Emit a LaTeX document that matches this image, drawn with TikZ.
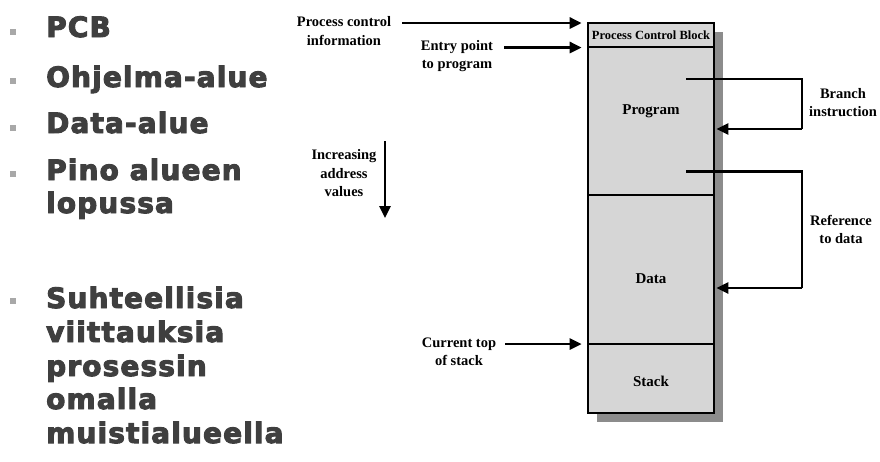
\documentclass[tikz,border=0pt]{standalone}
\usepackage{fontspec}
\setmainfont{Liberation Serif}
\newfontfamily\bulletfont{DejaVu Sans}[FakeBold=3.5,LetterSpace=4]
\usetikzlibrary{arrows.meta}
\definecolor{boxgray}{HTML}{D6D6D6}
\definecolor{shadowgray}{HTML}{8C8C8C}
\definecolor{bullettext}{HTML}{3F3F3F}
\definecolor{bulletmark}{HTML}{A8A8A8}
\begin{document}
\begin{tikzpicture}[x=1pt,y=-1pt,
  point/.style={anchor=base west,inner sep=0pt,text=bullettext,
    font=\bulletfont\bfseries\fontsize{28}{33}\selectfont},
  sqmark/.style={fill=bulletmark,draw=none,minimum size=6pt,inner sep=0pt},
  region/.style={draw=black,line width=2.6pt,fill=boxgray,minimum width=126pt,
    inner sep=0pt,font=\bfseries\fontsize{14.5}{18}\selectfont},
  lbl/.style={align=center,inner sep=0pt,font=\bfseries\fontsize{14.5}{18.5}\selectfont},
  arr/.style={line width=2.6pt,-{Triangle[length=12pt,width=11pt]}},
  wire/.style={line width=2.6pt}]
\useasboundingbox (0,0) rectangle (880,461);

% bullet list
\node[sqmark] (m1) at (13,32) {};
\node[point] (b1) at (46,37) {PCB};
\node[sqmark] (m2) at (13,81) {};
\node[point] (b2) at (46,87) {Ohjelma-alue};
\node[sqmark] (m3) at (13,128) {};
\node[point] (b3) at (46,133) {Data-alue};
\node[sqmark] (m4) at (13,174) {};
\node[point] (b4a) at (46,180) {Pino alueen};
\node[point] (b4b) at (46,213) {lopussa};
\node[sqmark] (m5) at (13,301) {};
\node[point] (b5a) at (46,308) {Suhteellisia};
\node[point] (b5b) at (46,342) {viittauksia};
\node[point] (b5c) at (46,376) {prosessin};
\node[point] (b5d) at (46,409) {omalla};
\node[point] (b5e) at (46,443) {muistialueella};

% process image with drop shadow
\fill[shadowgray] (597,32) rectangle (723,422);
\node[region,minimum height=24pt,font=\bfseries\fontsize{12.5}{13}\selectfont] (pcb) at (651,35) {Process Control Block};
\node[region,minimum height=148pt] (prog) at (651,121) {};
\node[region,minimum height=149pt] (data) at (651,269.5) {};
\node[region,minimum height=69pt] (stack) at (651,378.5) {};
\node[font=\bfseries\fontsize{15}{18}\selectfont] (progt) at (651,111) {Program};
\node[font=\bfseries\fontsize{15}{18}\selectfont] (datat) at (651,279) {Data};
\node[font=\bfseries\fontsize{15}{18}\selectfont] (stackt) at (651,381) {Stack};

% labels
\node[lbl] (pci) at (344,31) {Process control\\information};
\node[lbl] (entry) at (457,56) {Entry point\\to program};
\node[lbl] (incr) at (344,173.5) {Increasing\\address\\values};
\node[lbl] (ctop) at (459,352) {Current top\\of stack};
\node[lbl] (branch) at (843,102.5) {Branch\\instruction};
\node[lbl] (ref) at (841,229.5) {Reference\\to data};

% pointers into the image
\coordinate (pci-s) at (402,23);
\draw[arr,shorten >=5pt] (pci-s) -- (pci-s -| pcb.west);
\coordinate (entry-s) at (504,47.5);
\draw[arr,shorten >=5pt] (entry-s) -- (entry-s -| prog.west);
\coordinate (ctop-s) at (505,344);
\draw[arr,shorten >=5pt] (ctop-s) -- (ctop-s -| stack.west);
\coordinate (incr-s) at (385,141);
\coordinate (incr-e) at (385,218);
\draw[arr] (incr-s) -- (incr-e);

% branch and data reference loops
\coordinate (br-s) at (686,79);
\coordinate (br-t) at (prog.east |- 0,129);
\draw[wire] (br-s) -- (802,79) -- (802,129);
\draw[arr,shorten >=1pt] (802,129) -- (br-t);
\coordinate (rf-s) at (686,171.5);
\coordinate (rf-t) at (data.east |- 0,288);
\draw[wire] (rf-s) -- (802,171.5) -- (802,288);
\draw[arr,shorten >=1pt] (802,288) -- (rf-t);
\end{tikzpicture}
\end{document}
